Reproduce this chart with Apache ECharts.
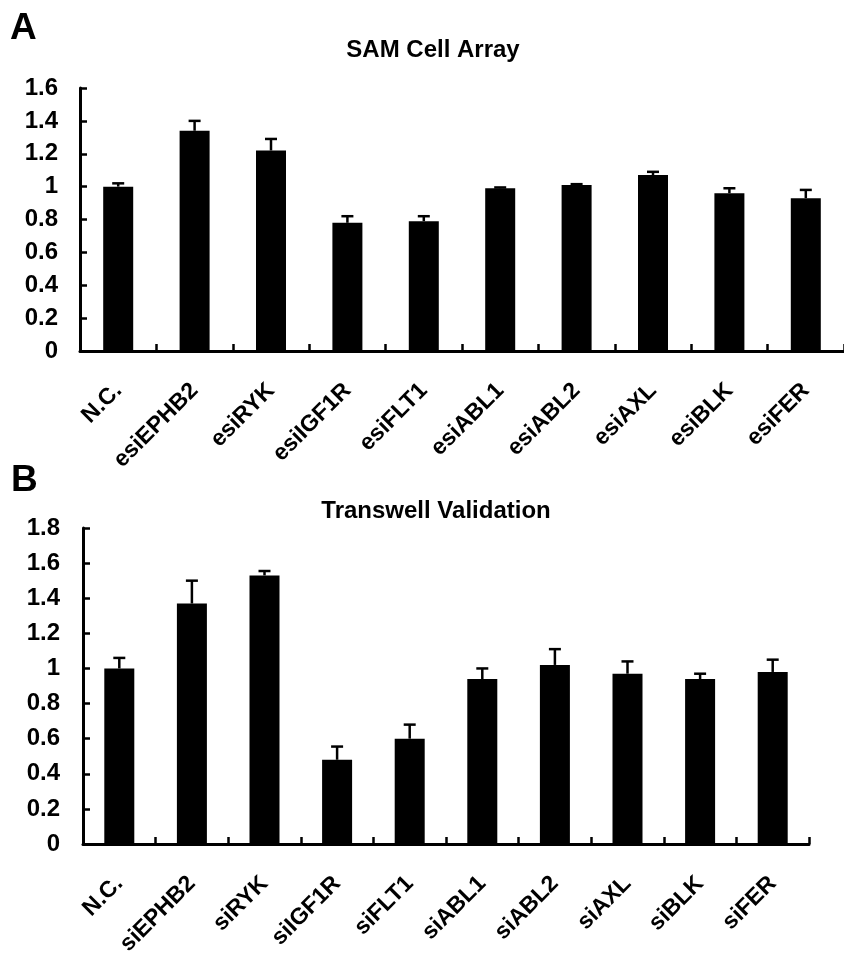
<!DOCTYPE html>
<html>
<head>
<meta charset="utf-8">
<script src="https://cdn.jsdelivr.net/npm/echarts@6/dist/echarts.min.js"></script>
<style>
html,body{margin:0;padding:0;background:#fff;}
#c{width:844px;height:969px;}
</style>
</head>
<body>
<div id="c"></div>
<script>
// Panel A: SAM Cell Array
var catsA = ['N.C.','esiEPHB2','esiRYK','esiIGF1R','esiFLT1','esiABL1','esiABL2','esiAXL','esiBLK','esiFER'];
var valsA = [1.00, 1.34, 1.22, 0.78, 0.79, 0.99, 1.01, 1.07, 0.96, 0.93];
var errA  = [0.02, 0.06, 0.07, 0.04, 0.03, 0.005, 0.005, 0.02, 0.03, 0.05];
// Panel B: Transwell Validation
var catsB = ['N.C.','siEPHB2','siRYK','siIGF1R','siFLT1','siABL1','siABL2','siAXL','siBLK','siFER'];
var valsB = [1.00, 1.37, 1.53, 0.48, 0.60, 0.94, 1.02, 0.97, 0.94, 0.98];
var errB  = [0.06, 0.13, 0.025, 0.075, 0.08, 0.06, 0.09, 0.07, 0.03, 0.07];
var titleA = 'SAM Cell Array';
var titleB = 'Transwell Validation';

var FONT = '"Liberation Sans", Arial, sans-serif';
var chart = echarts.init(document.getElementById('c'), null, {renderer: 'canvas'});

function errData(vals, errs) {
  return vals.map(function (v, i) { return [i, v, v + errs[i]]; });
}
function errRender(params, api) {
  var x = api.value(0);
  var lo = api.coord([x, api.value(1)]);
  var hi = api.coord([x, api.value(2)]);
  var half = 6;
  var st = {stroke: '#000', lineWidth: 2.5};
  return {
    type: 'group',
    children: [
      {type: 'line', shape: {x1: lo[0], y1: lo[1], x2: hi[0], y2: hi[1]}, style: st},
      {type: 'line', shape: {x1: hi[0] - half, y1: hi[1], x2: hi[0] + half, y2: hi[1]}, style: st}
    ]
  };
}
function xAxisCfg(idx, cats) {
  return {
    type: 'category', gridIndex: idx, data: cats,
    axisLine: {lineStyle: {color: '#000', width: 3}},
    axisTick: {show: true, inside: true, length: 7, alignWithLabel: false, lineStyle: {color: '#000', width: 2.5}},
    axisLabel: {interval: 0, rotate: 45, margin: 36, color: '#000', fontSize: 23, fontWeight: 'bold', fontFamily: FONT},
    splitLine: {show: false}
  };
}
function yAxisCfg(idx, max, margin) {
  return {
    type: 'value', gridIndex: idx, min: 0, max: max, interval: 0.2,
    axisLine: {show: true, lineStyle: {color: '#000', width: 3}},
    axisTick: {show: true, inside: true, length: 7, lineStyle: {color: '#000', width: 2.5}},
    axisLabel: {margin: margin, color: '#000', fontSize: 24, fontWeight: 'bold', fontFamily: FONT,
      formatter: function (v) { return String(+v.toFixed(1)); }},
    splitLine: {show: false}
  };
}

chart.setOption({
  animation: false,
  backgroundColor: '#fff',
  grid: [
    {left: 80, top: 88, width: 767, height: 263},
    {left: 83, top: 528, width: 726, height: 316}
  ],
  xAxis: [xAxisCfg(0, catsA), xAxisCfg(1, catsB)],
  yAxis: [yAxisCfg(0, 1.6, 22), yAxisCfg(1, 1.8, 23)],
  graphic: [
    {type: 'text', left: 10, top: 10, style: {text: 'A', font: 'bold 37px ' + FONT, fill: '#000'}},
    {type: 'text', left: 11, top: 462, style: {text: 'B', font: 'bold 37px ' + FONT, fill: '#000'}},
    {type: 'text', x: 433, y: 50, style: {text: titleA, font: 'bold 24px ' + FONT, fill: '#000', textAlign: 'center', textVerticalAlign: 'middle'}},
    {type: 'text', x: 436, y: 511, style: {text: titleB, font: 'bold 24px ' + FONT, fill: '#000', textAlign: 'center', textVerticalAlign: 'middle'}}
  ],
  series: [
    {type: 'bar', xAxisIndex: 0, yAxisIndex: 0, data: valsA, barWidth: 30, itemStyle: {color: '#000'}},
    {type: 'custom', xAxisIndex: 0, yAxisIndex: 0, data: errData(valsA, errA), renderItem: errRender, z: 3},
    {type: 'bar', xAxisIndex: 1, yAxisIndex: 1, data: valsB, barWidth: 30, itemStyle: {color: '#000'}},
    {type: 'custom', xAxisIndex: 1, yAxisIndex: 1, data: errData(valsB, errB), renderItem: errRender, z: 3}
  ]
});
</script>
</body>
</html>
